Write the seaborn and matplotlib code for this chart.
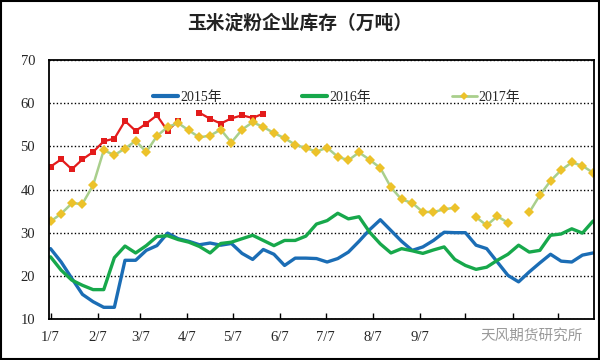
import numpy as np
import pandas as pd
import matplotlib
matplotlib.use('Agg')
import matplotlib.pyplot as plt
from matplotlib.lines import Line2D
from matplotlib.patches import Rectangle
import seaborn as sns

nan = np.nan

# weekly points, day offset counted from 1/7
days = list(range(0, 358, 7))

s2015 = [26.3, 23.2, 19.4, 15.7, 14.0, 12.7, 12.7, 23.6, 23.6, 25.9,
         27.0, 29.9, 28.6, 28.0, 27.2, 27.6, 27.1, 27.5, 25.2, 23.8,
         26.1, 25.0, 22.4, 24.1, 24.1, 24.0, 23.2, 24.0, 25.5, 28.0,
         30.7, 33.0, 30.5, 28.0, 25.9, 26.7, 28.2, 30.1, 30.0, 30.0,
         27.1, 26.3, 23.2, 20.1, 18.6, 20.9, 23.0, 25.0, 23.4, 23.2,
         24.8, 25.3]
s2016 = [24.4, 21.3, 19.0, 17.8, 16.8, 16.8, 24.2, 26.9, 25.3, 27.0,
         29.1, 29.3, 28.4, 27.8, 26.8, 25.3, 27.5, 27.8, 28.6, 29.4,
         28.2, 27.0, 28.2, 28.2, 29.2, 32.0, 32.8, 34.5, 33.2, 33.7,
         30.1, 27.4, 25.3, 26.3, 25.8, 25.2, 26.0, 26.7, 23.8, 22.4,
         21.5, 22.0, 23.6, 25.0, 27.1, 25.5, 25.9, 29.4, 29.7, 30.9,
         29.9, 32.7]
s2017 = [32.6, 34.4, 36.8, 36.7, 41.0, 49.1, 48.0, 49.5, 51.3, 48.7,
         52.4, 54.5, 55.4, 53.7, 52.1, 52.5, 53.9, 50.9, 53.9, 55.6,
         54.5, 53.1, 51.9, 50.4, 49.6, 48.8, 49.7, 47.6, 46.8, 48.6,
         46.9, 45.0, 40.5, 37.7, 36.9, 34.8, 34.8, 35.4, 35.8, nan,
         33.6, 31.7, 33.8, 32.3, nan, 34.7, 38.7, 42.0, 44.5, 46.3,
         45.5, 43.9]
# red series (no legend entry)
s_red = [45.3, 47.0, 44.7, 47.0, 48.7, 51.2, 51.8, 55.9, 53.6, 55.3,
         57.2, 53.6, 56.0, nan, 57.8, 56.4, 55.3, 56.5, 57.2, 56.6,
         57.6] + [nan] * 31

tick_days = [0, 31, 59, 90, 120, 151, 181, 212, 243, 273, 304, 334]
tick_labels = ['1/7', '2/7', '3/7', '4/7', '5/7', '6/7', '7/7', '8/7', '9/7', '', '', '']

c2015 = '#1b6db5'
c2016 = '#17a84b'
c2017_line = '#a9cf8c'
c2017_mark = '#ecc22a'
c_red = '#e31b1b'


def to_long(values):
    df = pd.DataFrame({'day': days, 'value': values})
    df['seg'] = df['value'].isna().cumsum()
    return df.dropna()


sns.set_style('white')
plt.rcParams['font.family'] = ['Liberation Serif', 'Noto Sans CJK SC', 'DejaVu Sans']

fig = plt.figure(figsize=(6, 3.6), dpi=100)
ax = fig.add_axes([0.0817, 0.114, 0.908, 0.719])

sns.lineplot(data=to_long(s2015), x='day', y='value', units='seg', estimator=None,
             color=c2015, lw=2.4, ax=ax, legend=False)
sns.lineplot(data=to_long(s2016), x='day', y='value', units='seg', estimator=None,
             color=c2016, lw=2.4, ax=ax, legend=False)
sns.lineplot(data=to_long(s_red), x='day', y='value', units='seg', estimator=None,
             color=c_red, lw=1.6, marker='s', markersize=4, markeredgewidth=0,
             markerfacecolor=c_red, ax=ax, legend=False)
sns.lineplot(data=to_long(s2017), x='day', y='value', units='seg', estimator=None,
             color=c2017_line, lw=1.8, marker='D', markersize=5.5, markeredgewidth=0,
             markerfacecolor=c2017_mark, ax=ax, legend=False)

ax.set_xlim(-1, 357.5)
ax.set_ylim(10, 70)
ax.set_yticks(range(10, 71, 10))
ax.set_xticks(tick_days)
ax.set_xticklabels(tick_labels)
ax.set_xlabel('')
ax.set_ylabel('')
ax.yaxis.grid(True, linestyle=(0, (1, 1.6)), color='black', lw=1.0)
ax.xaxis.grid(False)
for sp in ax.spines.values():
    sp.set_visible(True)
    sp.set_color('black')
    sp.set_linewidth(1.3)
ax.tick_params(axis='x', direction='in', length=4, width=1, color='black',
               labelsize=10.5, pad=9, bottom=True)
ax.tick_params(axis='y', length=0, labelsize=10.5, pad=10)

handles = [
    Line2D([], [], color=c2015, lw=3),
    Line2D([], [], color=c2016, lw=3),
    Line2D([], [], color=c2017_line, lw=2, marker='D', markersize=4,
           markerfacecolor=c2017_mark, markeredgewidth=0),
]
ax.legend(handles, ['2015年', '2016年', '2017年'], loc='center',
          bbox_to_anchor=(0.528, 0.857), ncol=3, frameon=False,
          fontsize=10, handlelength=1.8, handletextpad=0.15, columnspacing=5.8)

fig.text(0.5, 0.935, '玉米淀粉企业库存（万吨）', ha='center', va='center',
         fontsize=13.5, fontweight='bold', family=['Noto Sans CJK SC'], color='#222222')
fig.text(0.80, 0.066, '天风期货研究所', ha='left', va='center', fontsize=10.5,
         family=['Noto Sans CJK SC'], color='#9a9a9a')

fig.patches.append(Rectangle((0.002, 0.003), 0.996, 0.994, transform=fig.transFigure,
                             fill=False, edgecolor='black', lw=1.5))

fig.savefig('out.png', dpi=100)
